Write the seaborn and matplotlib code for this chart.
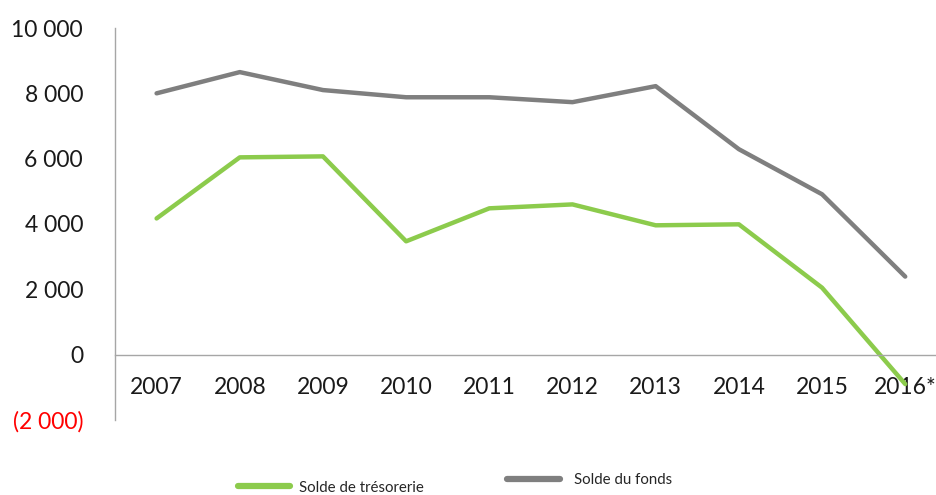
import matplotlib
matplotlib.use("Agg")
import matplotlib.pyplot as plt
import seaborn as sns
import pandas as pd
from matplotlib.ticker import FuncFormatter, FixedLocator
from matplotlib.lines import Line2D

years = ["2007", "2008", "2009", "2010", "2011", "2012", "2013", "2014", "2015", "2016*"]
solde_tresorerie = [4170, 6040, 6070, 3470, 4480, 4600, 3960, 3990, 2050, -900]
solde_fonds = [8000, 8650, 8100, 7880, 7880, 7730, 8220, 6290, 4910, 2390]
series_names = ["Solde de trésorerie", "Solde du fonds"]
colors = ["#8CCB4C", "#7F7F7F"]
y_ticks = [-2000, 0, 2000, 4000, 6000, 8000, 10000]

sns.set_theme(style="white")
plt.rcParams['font.family'] = ['Lato', 'DejaVu Sans']

df = pd.DataFrame({
    "pos": list(range(len(years))) * 2,
    "value": solde_tresorerie + solde_fonds,
    "series": [series_names[0]] * len(years) + [series_names[1]] * len(years),
})

W, H = 936, 495
fig = plt.figure(figsize=(W / 100, H / 100), dpi=100)
ax = fig.add_axes([115 / W, 1 - 420 / H, (936 - 115) / W, (420 - 28) / H])

sns.lineplot(data=df, x="pos", y="value", hue="series", palette=colors,
             linewidth=3.2, ax=ax, legend=False, solid_capstyle="round")

ax.set_xlim(-0.5, 9.37)
ax.set_ylim(-2000, 10000)
ax.set_xlabel("")
ax.set_ylabel("")

ax.xaxis.set_major_locator(FixedLocator(range(len(years))))
ax.set_xticklabels(years)
ax.yaxis.set_major_locator(FixedLocator(y_ticks))

def fmt(v, _):
    v = int(round(v))
    s = f"{abs(v):,}".replace(",", " ")
    return f"({s})" if v < 0 else s

ax.yaxis.set_major_formatter(FuncFormatter(fmt))
ax.tick_params(axis="x", length=0, pad=16, labelsize=16.5, colors="#1a1a1a")
ax.tick_params(axis="y", length=0, pad=23, labelsize=16.5, colors="#1a1a1a")
for lab in ax.get_yticklabels():
    if lab.get_text().startswith("("):
        lab.set_color("#FF0000")

for s in ["top", "right"]:
    ax.spines[s].set_visible(False)
ax.spines["bottom"].set_position(("data", 0))
ax.spines["bottom"].set_color("#A6A6A6")
ax.spines["left"].set_color("#A6A6A6")
ax.spines["bottom"].set_linewidth(1.0)
ax.spines["left"].set_linewidth(1.0)
ax.grid(False)

# Legend (two entries, placed as in the reference)
h0 = Line2D([0], [0], color=colors[0], lw=4.5)
h1 = Line2D([0], [0], color=colors[1], lw=4.5)
leg1 = fig.legend([h0], [series_names[0]], loc="lower left",
                  bbox_to_anchor=(236 / W, -1 / H), frameon=False, fontsize=10.8,
                  handlelength=3.5, handletextpad=0.6, borderpad=0.1, borderaxespad=0)
leg2 = fig.legend([h1], [series_names[1]], loc="lower left",
                  bbox_to_anchor=(506 / W, 6 / H), frameon=False, fontsize=10.8,
                  handlelength=3.5, handletextpad=0.9, borderpad=0.1, borderaxespad=0)

fig.savefig("out.png", dpi=100)
